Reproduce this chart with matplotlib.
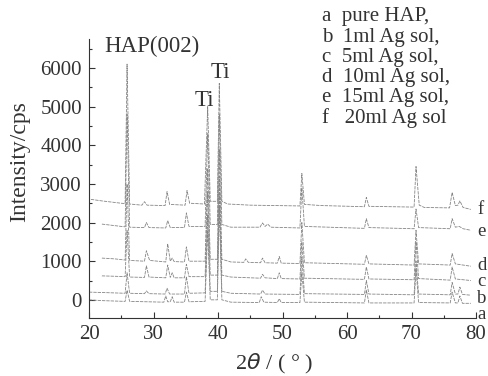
import numpy as np
import matplotlib
matplotlib.use('Agg')
import matplotlib.pyplot as plt
from matplotlib.ticker import MultipleLocator

plt.rcParams['font.family'] = ['Liberation Serif', 'DejaVu Serif']

# XRD patterns: (2theta, intensity) points per sample
curve_a = [(20.0, 0), (22.0, -20), (25.6, -40), (25.9, 250), (26.3, -40), (31.6, -60), (31.9, 100),
           (32.2, -50), (32.6, -50), (32.9, 80), (33.2, -60), (34.8, -60), (35.1, 200), (35.5, -50),
           (38.0, -40), (38.4, 1800), (38.8, 0), (39.9, 0), (40.2, 2400), (40.6, 0), (42.0, -60),
           (46.4, -70), (46.7, 80), (47.1, -60), (49.2, -70), (49.5, 30), (49.8, -70), (52.7, -70),
           (53.0, 700), (53.4, -60), (62.7, -80), (63.0, 250), (63.4, -80), (70.4, -80), (70.7, 800),
           (71.1, -70), (76.0, -80), (76.3, 200), (76.8, -80), (77.2, -80), (77.5, 100), (77.9, -90),
           (79.2, -90)]
curve_b = [(20.0, 200), (22.0, 190), (25.6, 170), (25.9, 700), (26.3, 170), (28.6, 160), (28.9, 230),
           (29.3, 160), (31.8, 150), (32.1, 300), (32.5, 150), (34.8, 150), (35.1, 600), (35.5, 170),
           (38.0, 180), (38.4, 2200), (38.8, 220), (39.9, 220), (40.2, 2800), (40.6, 220), (42.0, 170),
           (46.6, 150), (46.9, 250), (47.3, 150), (52.7, 140), (53.0, 1100), (53.4, 160), (62.7, 140),
           (63.0, 500), (63.4, 150), (70.4, 130), (70.7, 1000), (71.1, 150), (76.0, 130), (76.3, 450),
           (76.8, 150), (77.2, 150), (77.5, 330), (77.9, 140), (79.2, 120)]
curve_c = [(22.0, 620), (24.0, 610), (25.6, 600), (25.9, 1800), (26.3, 590), (28.6, 580), (28.9, 880),
           (29.3, 590), (31.9, 570), (32.2, 900), (32.6, 580), (32.9, 700), (33.2, 570), (34.8, 570),
           (35.1, 920), (35.5, 600), (38.0, 600), (38.4, 2800), (38.8, 640), (39.9, 640), (40.2, 3200),
           (40.6, 640), (42.0, 590), (46.6, 560), (46.9, 660), (47.3, 570), (49.2, 550), (49.5, 700),
           (49.8, 550), (52.7, 540), (53.0, 1500), (53.4, 560), (62.7, 530), (63.0, 850), (63.4, 540),
           (70.4, 520), (70.7, 1500), (71.1, 550), (76.0, 510), (76.3, 850), (76.8, 540), (79.2, 500)]
curve_d = [(22.0, 1080), (24.0, 1060), (25.6, 1030), (25.9, 3000), (26.3, 1020), (28.6, 1000),
           (28.9, 1270), (29.4, 1020), (31.9, 980), (32.2, 1450), (32.6, 1000), (32.9, 1080), (33.2, 990),
           (34.8, 980), (35.1, 1370), (35.5, 1000), (38.0, 1000), (38.4, 3400), (38.8, 1050), (39.9, 1050),
           (40.2, 3900), (40.6, 1050), (42.0, 980), (44.0, 970), (44.3, 1060), (44.7, 970), (46.6, 960),
           (46.9, 1080), (47.3, 960), (49.2, 950), (49.5, 1120), (49.8, 950), (52.7, 940), (53.0, 2000),
           (53.4, 960), (62.7, 920), (63.0, 1150), (63.4, 930), (70.4, 900), (70.7, 1800), (71.1, 930),
           (76.0, 900), (76.3, 1200), (76.8, 930), (79.2, 870)]
curve_e = [(22.0, 1960), (25.0, 1900), (25.6, 1890), (25.9, 4800), (26.3, 1880), (28.6, 1870),
           (28.9, 2000), (29.3, 1870), (31.9, 1860), (32.2, 2050), (32.6, 1870), (34.8, 1870), (35.1, 2250),
           (35.5, 1900), (38.0, 1900), (38.4, 4300), (38.8, 1950), (39.9, 1950), (40.2, 4800), (40.6, 1950),
           (42.0, 1880), (46.5, 1880), (46.9, 1990), (47.3, 1900), (47.7, 1960), (48.2, 1880), (52.7, 1860),
           (53.0, 2900), (53.4, 1900), (62.7, 1850), (63.0, 2100), (63.4, 1870), (70.4, 1840), (70.7, 2350),
           (71.1, 1870), (76.0, 1840), (76.3, 2100), (76.8, 1880), (77.4, 1900), (78.0, 1840), (79.2, 1800)]
curve_f = [(20.3, 2600), (22.0, 2560), (25.0, 2500), (25.6, 2490), (25.9, 6100), (26.3, 2480),
           (28.2, 2450), (28.6, 2540), (29.0, 2450), (31.8, 2440), (32.1, 2800), (32.5, 2470), (34.9, 2450),
           (35.2, 2830), (35.6, 2500), (37.9, 2480), (38.4, 5000), (38.8, 2550), (39.9, 2550), (40.2, 5600),
           (40.6, 2550), (41.5, 2480), (45.0, 2450), (52.7, 2430), (53.0, 3270), (53.4, 2470), (56.0, 2440),
           (62.7, 2410), (63.0, 2650), (63.4, 2420), (70.4, 2400), (70.7, 3450), (71.2, 2450), (72.0, 2390),
           (75.9, 2380), (76.3, 2780), (76.8, 2440), (77.2, 2450), (77.5, 2560), (78.0, 2390), (79.2, 2340)]

curves = [curve_a, curve_b, curve_c, curve_d, curve_e, curve_f]
curve_tags = ['a', 'b', 'c', 'd', 'e', 'f']
tag_y = [-390, 40, 480, 880, 1760, 2330]
legend_lines = ['a  pure HAP,', 'b  1ml Ag sol,', 'c  5ml Ag sol,',
                'd  10ml Ag sol,', 'e  15ml Ag sol,', 'f   20ml Ag sol']

ink = '#333333'
fig = plt.figure(figsize=(4.88, 3.76), dpi=100)
ax = fig.add_axes([89 / 488, 1 - 318 / 376, (476 - 89) / 488, (318 - 39) / 376])

for pts in curves:
    xs = [p[0] for p in pts]
    ys = [p[1] for p in pts]
    ax.plot(xs, ys, color='#858585', lw=0.6, ls=(0, (4, 1.2)))

for tag, ty in zip(curve_tags, tag_y):
    ax.text(80.2, ty, tag, fontsize=13.5, color=ink, va='center', ha='left', clip_on=False)

ax.text(22.3, 6560, 'HAP(002)', fontsize=16.5, color=ink, va='center')
ax.text(40.3, 5880, 'Ti', fontsize=16.5, color=ink, va='center', ha='center')
ax.text(37.9, 5150, 'Ti', fontsize=16.5, color=ink, va='center', ha='center')

ax.set_xlim(20, 80)
ax.set_ylim(-470, 6750)
ax.xaxis.set_major_locator(MultipleLocator(10))
ax.xaxis.set_minor_locator(MultipleLocator(5))
ax.yaxis.set_major_locator(MultipleLocator(1000))
ax.yaxis.set_minor_locator(MultipleLocator(500))
ax.tick_params(which='both', direction='in', colors=ink, labelsize=15, width=0.8)
ax.tick_params(which='major', length=4, pad=5)
ax.tick_params(which='minor', length=2.5)
for side in ['top', 'right']:
    ax.spines[side].set_visible(False)
for side in ['left', 'bottom']:
    ax.spines[side].set_color(ink)
    ax.spines[side].set_linewidth(0.8)

ax.set_xlabel('2$\\it{\\theta}$ / ( ° )', fontsize=16, color=ink)
ax.set_ylabel('Intensity/cps', fontsize=17, color=ink)
ax.xaxis.set_label_coords(0.478, -0.122)
ax.yaxis.set_label_coords(-0.152, 0.56)

for i, line in enumerate(legend_lines):
    fig.text(322 / 488, 1 - (17 + 20.2 * i) / 376, line, fontsize=15, color=ink, va='center')

fig.savefig('out.png', dpi=100, facecolor='white')
